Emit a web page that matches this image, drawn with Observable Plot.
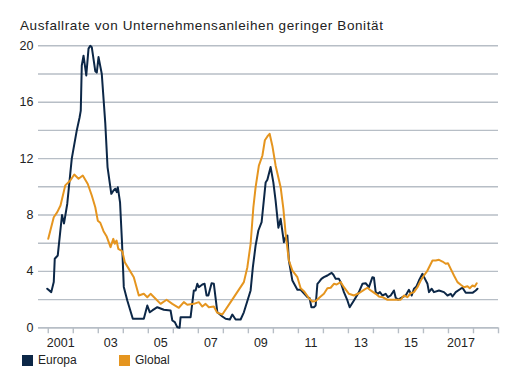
<!DOCTYPE html>
<html>
<head>
<meta charset="utf-8">
<script src="https://cdn.jsdelivr.net/npm/d3@7"></script>
<script src="https://cdn.jsdelivr.net/npm/@observablehq/plot@0.6"></script>
<style>
  body { margin: 0; background: #fff; font-family: "Liberation Sans", Arial, sans-serif; color: #222; }
  #wrap { position: relative; width: 518px; height: 385px; }
  #title { height: 35px; box-sizing: border-box; padding-left: 20px; padding-top: 18.5px; font-size: 13.5px; letter-spacing: 0.6px; line-height: 13px; white-space: nowrap; }
  #legend { position: relative; height: 30px; font-size: 12px; }
  .sw { position: absolute; top: 2px; width: 11px; height: 11px; }
  .lb { position: absolute; top: 0px; line-height: 15px; }
</style>
</head>
<body>
<div id="wrap">
  <div id="title">Ausfallrate von Unternehmensanleihen geringer Bonität</div>
  <div id="chart"></div>
  <div id="legend"></div>
</div>
<script>
const seriesNames = ["Europa", "Global"];
const seriesColors = ["#0c2747", "#e5951f"];

const europaYears = [2000.96,2001.12,2001.22,2001.26,2001.38,2001.55,2001.63,2001.76,2001.94,2002.14,2002.25,2002.30,2002.34,2002.41,2002.52,2002.61,2002.68,2002.74,2002.88,2002.94,2003.01,2003.14,2003.28,2003.37,2003.52,2003.61,2003.68,2003.74,2003.78,2003.87,2003.95,2004.02,2004.16,2004.38,2004.82,2004.96,2005.06,2005.16,2005.36,2005.62,2005.89,2005.96,2006.06,2006.16,2006.25,2006.29,2006.69,2006.82,2006.89,2006.96,2007.02,2007.16,2007.25,2007.33,2007.40,2007.53,2007.62,2007.76,2007.96,2008.09,2008.26,2008.36,2008.49,2008.69,2008.82,2009.09,2009.18,2009.29,2009.40,2009.53,2009.69,2009.76,2009.89,2010.00,2010.09,2010.20,2010.29,2010.42,2010.49,2010.56,2010.62,2010.76,2010.96,2011.09,2011.22,2011.36,2011.45,2011.52,2011.62,2011.69,2011.76,2011.82,2011.92,2012.02,2012.16,2012.26,2012.33,2012.40,2012.49,2012.62,2012.69,2012.82,2012.96,2013.05,2013.22,2013.42,2013.56,2013.69,2013.82,2013.96,2014.02,2014.09,2014.18,2014.26,2014.36,2014.49,2014.58,2014.69,2014.82,2014.89,2014.99,2015.16,2015.29,2015.42,2015.53,2015.62,2015.72,2015.82,2015.96,2016.06,2016.16,2016.22,2016.33,2016.42,2016.62,2016.82,2016.96,2017.09,2017.16,2017.29,2017.49,2017.56,2017.69,2017.96,2018.09,2018.16];
const europaValues = [2.77,2.53,3.24,4.9,5.13,8.0,7.4,8.8,12.0,14.0,14.9,15.4,18.6,19.3,17.9,19.8,20.0,19.9,18.2,18.1,19.2,18.0,14.5,11.4,9.5,9.74,9.86,9.62,9.97,8.9,6.0,2.9,1.94,0.64,0.64,1.58,1.1,1.23,1.46,1.28,1.23,0.52,0.4,0.04,0.0,0.75,0.75,2.65,2.65,3.12,2.88,3.07,3.12,2.29,2.29,3.16,3.12,1.1,0.8,0.64,0.59,0.94,0.59,0.59,1.1,2.65,4.3,5.84,6.9,7.49,10.3,10.5,11.4,10.3,9.0,7.1,7.73,6.07,6.43,6.55,4.77,3.35,2.7,2.7,2.45,2.17,2.1,1.46,1.46,1.58,3.12,3.24,3.47,3.59,3.71,3.83,3.9,3.76,3.47,3.47,3.24,2.53,1.94,1.46,1.94,2.53,3.12,3.16,2.88,3.59,3.55,2.53,2.41,2.53,2.29,2.41,2.17,2.29,2.65,2.13,2.0,2.17,2.29,2.69,2.29,2.77,2.93,3.35,3.83,3.47,3.12,2.53,2.77,2.53,2.65,2.53,2.29,2.41,2.22,2.53,2.77,2.84,2.48,2.48,2.65,2.77];

const globalYears = [2001.00,2001.22,2001.36,2001.49,2001.68,2001.88,2002.04,2002.21,2002.38,2002.58,2002.74,2002.88,2002.98,2003.08,2003.21,2003.33,2003.49,2003.60,2003.66,2003.73,2003.80,2003.96,2004.06,2004.22,2004.42,2004.62,2004.82,2004.96,2005.09,2005.29,2005.49,2005.73,2005.96,2006.22,2006.42,2006.56,2006.82,2007.02,2007.16,2007.29,2007.42,2007.62,2007.75,2007.96,2008.29,2008.82,2008.96,2009.09,2009.20,2009.29,2009.42,2009.56,2009.66,2009.76,2009.85,2009.96,2010.09,2010.29,2010.40,2010.49,2010.62,2010.76,2010.96,2011.09,2011.22,2011.42,2011.56,2011.69,2011.89,2012.02,2012.16,2012.29,2012.42,2012.53,2012.69,2012.82,2013.02,2013.22,2013.42,2013.62,2013.76,2013.89,2014.09,2014.22,2014.36,2014.56,2014.82,2015.09,2015.22,2015.36,2015.49,2015.62,2015.76,2015.89,2016.02,2016.16,2016.26,2016.36,2016.49,2016.62,2016.76,2016.89,2016.98,2017.09,2017.22,2017.36,2017.49,2017.62,2017.76,2017.85,2017.96,2018.05,2018.13];
const globalValues = [6.31,7.84,8.2,8.67,10.1,10.45,10.87,10.57,10.8,10.2,9.38,8.55,7.6,7.45,6.85,6.5,5.72,6.31,5.96,6.19,5.6,5.43,4.65,4.18,3.59,2.29,2.41,2.17,2.41,2.06,1.7,1.99,1.7,1.42,1.82,1.63,1.70,1.82,1.51,1.70,1.46,1.51,1.08,0.94,1.82,3.24,4.3,5.96,8.55,9.97,11.5,12.2,13.3,13.57,13.76,12.9,11.5,9.97,8.44,6.67,4.77,4.06,3.59,2.8,2.6,2.1,1.87,1.9,2.22,2.41,2.81,2.84,3.12,3.07,3.24,2.88,2.41,2.29,2.45,2.69,2.84,2.65,2.41,2.22,2.17,1.99,1.99,1.99,2.29,2.17,2.45,2.53,2.88,3.35,3.71,4.06,4.42,4.77,4.77,4.82,4.70,4.54,4.58,4.18,3.71,3.24,3.05,2.88,2.95,2.81,3.0,2.93,3.16];

const yGridTicks = [0,2,4,6,8,10,12,14,16,18,20];
const yLabelTicks = [0,4,8,12,16,20];
const xTickYears = d3.range(2001, 2020);
const xLabelYears = [2001,2003,2005,2007,2009,2011,2013,2015,2017];
const xLabelTexts = ["2001","03","05","07","09","11","13","15","2017"];

const rows = [
  ...europaYears.map((x, i) => ({series: "Europa", x, y: europaValues[i]})),
  ...globalYears.map((x, i) => ({series: "Global", x, y: globalValues[i]}))
];

const grid = "#b7bec6";
const chart = Plot.plot({
  width: 518,
  height: 318,
  marginTop: 10.3,
  marginBottom: 25.7,
  marginLeft: 38,
  marginRight: 20,
  style: {fontFamily: "Liberation Sans, Arial, sans-serif", fontSize: "12px", color: "#222", background: "#fff"},
  x: {domain: [2000.61, 2019.0]},
  y: {domain: [0, 20]},
  color: {domain: seriesNames, range: seriesColors},
  marks: [
    Plot.gridY(yGridTicks, {stroke: grid, strokeOpacity: 1, strokeWidth: 1.4}),
    Plot.axisY(yLabelTicks, {tickSize: 0, tickPadding: 5, label: null, fill: "#222", fontSize: 12.5}),
    Plot.ruleY([0], {stroke: grid, strokeWidth: 1.4}),
    Plot.axisX(xTickYears, {tickSize: 6, tickFormat: () => "", label: null, stroke: grid, strokeWidth: 1.4}),
    Plot.axisX(xLabelYears.map(y => y + 0.5), {tickSize: 0, tickPadding: 10, label: null, fill: "#222", fontSize: 12.5,
      tickFormat: (d) => xLabelTexts[xLabelYears.indexOf(Math.round(d - 0.5))]}),
    Plot.line(rows, {x: "x", y: "y", z: "series", stroke: "series", strokeWidth: 2, curve: "linear"})
  ]
});
document.getElementById("chart").appendChild(chart);

const legend = document.getElementById("legend");
const legendX = [22, 119];
seriesNames.forEach((name, i) => {
  const sw = document.createElement("div");
  sw.className = "sw"; sw.style.left = legendX[i] + "px"; sw.style.background = seriesColors[i];
  legend.appendChild(sw);
  const lb = document.createElement("div");
  lb.className = "lb"; lb.style.left = (legendX[i] + 16) + "px"; lb.textContent = name;
  legend.appendChild(lb);
});
</script>
</body>
</html>
